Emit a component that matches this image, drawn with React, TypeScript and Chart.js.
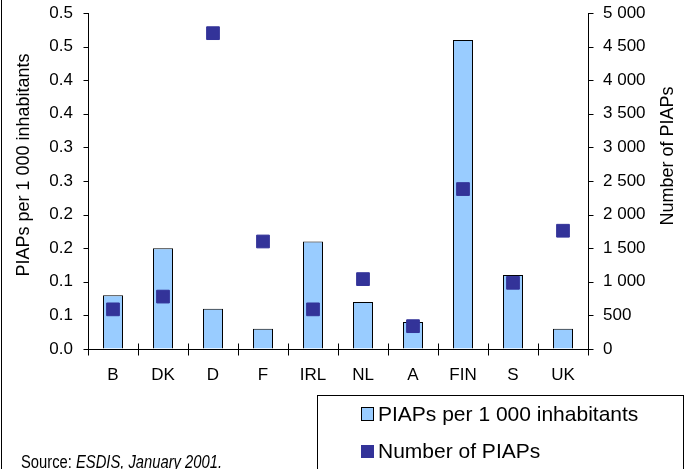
import React, { useEffect, useRef } from 'react';
import { Chart, registerables } from 'chart.js';

Chart.register(...registerables);

const categories = ['B', 'DK', 'D', 'F', 'IRL', 'NL', 'A', 'FIN', 'S', 'UK'];
const piapsPer1000 = [0.08, 0.15, 0.06, 0.03, 0.16, 0.07, 0.04, 0.46, 0.11, 0.03];
const numberOfPiaps = [590, 780, 4700, 1600, 590, 1040, 340, 2380, 985, 1760];
const leftTickLabels = ['0.0', '0.1', '0.1', '0.2', '0.2', '0.3', '0.3', '0.4', '0.4', '0.5', '0.5'];
const rightTickLabels = ['0', '500', '1 000', '1 500', '2 000', '2 500', '3 000', '3 500', '4 000', '4 500', '5 000'];
const seriesLabels = ['PIAPs per 1 000 inhabitants', 'Number of PIAPs'];
const leftAxisTitle = 'PIAPs per 1 000 inhabitants';
const rightAxisTitle = 'Number of PIAPs';
const sourcePrefix = 'Source: ';
const sourceItalic = 'ESDIS, January 2001.';

const FONT = "'Liberation Sans', Arial, sans-serif";
const BAR_FILL = '#99CCFF';
const MARK = '#333399';

const extrasPlugin = {
  id: 'extras',
  afterDraw(chart: any) {
    const ctx = chart.ctx as CanvasRenderingContext2D;
    const area = chart.chartArea;
    ctx.save();
    ctx.strokeStyle = '#000';
    ctx.lineWidth = 1;

    // left frame line
    ctx.beginPath();
    ctx.moveTo(1.5, 0);
    ctx.lineTo(1.5, 469);
    ctx.stroke();

    // crossing category tick marks
    const n = categories.length;
    const step = (area.right - area.left) / n;
    const yAxis = Math.round(area.bottom) + 0.5;
    ctx.beginPath();
    for (let i = 0; i <= n; i++) {
      const x = Math.round(area.left + i * step) + 0.5;
      ctx.moveTo(x, yAxis - 6);
      ctx.lineTo(x, yAxis + 6);
    }
    // outside tick marks on both value axes
    const yl = chart.scales.y;
    const yr = chart.scales.y1;
    yl.ticks.forEach((t: any) => {
      const py = Math.round(yl.getPixelForValue(t.value)) + 0.5;
      const lx = Math.round(area.left) + 0.5;
      ctx.moveTo(lx - 5, py);
      ctx.lineTo(lx, py);
    });
    yr.ticks.forEach((t: any) => {
      const py = Math.round(yr.getPixelForValue(t.value)) + 0.5;
      const rx = Math.round(area.right) + 0.5;
      ctx.moveTo(rx, py);
      ctx.lineTo(rx + 5, py);
    });
    ctx.stroke();

    // axis titles (both read bottom-to-top)
    ctx.fillStyle = '#000';
    ctx.font = `18px ${FONT}`;
    ctx.textAlign = 'center';
    ctx.textBaseline = 'middle';
    ctx.save();
    ctx.translate(24, 165);
    ctx.rotate(-Math.PI / 2);
    ctx.fillText(leftAxisTitle, 0, 0);
    ctx.restore();
    ctx.save();
    ctx.translate(668, 156);
    ctx.rotate(-Math.PI / 2);
    ctx.fillText(rightAxisTitle, 0, 0);
    ctx.restore();

    // legend box
    ctx.strokeRect(317.5, 395.5, 366, 100);
    ctx.textAlign = 'left';
    ctx.textBaseline = 'alphabetic';
    ctx.font = `21px ${FONT}`;
    ctx.fillStyle = BAR_FILL;
    ctx.fillRect(361.5, 407.5, 12, 13);
    ctx.strokeRect(361.5, 407.5, 12, 13);
    ctx.fillStyle = '#000';
    ctx.fillText(seriesLabels[0], 378, 421);
    ctx.fillStyle = MARK;
    ctx.fillRect(361, 445, 13, 13);
    ctx.fillStyle = '#000';
    ctx.fillText(seriesLabels[1], 378, 458);

    // source note (condensed)
    ctx.save();
    ctx.translate(21, 468);
    ctx.scale(0.82, 1);
    ctx.font = `18px ${FONT}`;
    ctx.fillText(sourcePrefix, 0, 0);
    const w = ctx.measureText(sourcePrefix).width;
    ctx.font = `italic 18px ${FONT}`;
    ctx.fillText(sourceItalic, w, 0);
    ctx.restore();

    ctx.restore();
  },
};

export default function App() {
  const canvasRef = useRef<HTMLCanvasElement | null>(null);

  useEffect(() => {
    if (!canvasRef.current) return;
    const tickFont = { family: FONT, size: 17 };
    const valueGrid = {
      display: true,
      drawOnChartArea: false,
      drawTicks: true,
      tickLength: 13,
      tickColor: 'rgba(0,0,0,0)',
      color: 'rgba(0,0,0,0)',
    };
    const chart = new Chart(canvasRef.current, {
      type: 'bar',
      data: {
        labels: categories,
        datasets: [
          {
            type: 'line',
            label: seriesLabels[1],
            data: numberOfPiaps,
            yAxisID: 'y1',
            showLine: false,
            pointStyle: 'rect',
            pointRadius: 9,
            pointHoverRadius: 9,
            pointBackgroundColor: MARK,
            pointBorderColor: MARK,
            pointBorderWidth: 1,
            backgroundColor: MARK,
            borderColor: MARK,
            order: 0,
          } as any,
          {
            type: 'bar',
            label: seriesLabels[0],
            data: piapsPer1000,
            yAxisID: 'y',
            backgroundColor: BAR_FILL,
            borderColor: '#000',
            borderWidth: 1,
            barPercentage: 0.4,
            categoryPercentage: 1,
            order: 1,
          },
        ],
      },
      options: {
        animation: false,
        responsive: false,
        layout: { padding: { top: 13, left: 0, right: 0, bottom: 0 } },
        plugins: {
          legend: { display: false },
          tooltip: { enabled: false },
        },
        scales: {
          x: {
            type: 'category',
            offset: true,
            grid: { display: false, drawTicks: false },
            border: { display: true, color: '#000', width: 1 },
            ticks: { font: tickFont, color: '#000', padding: 16, maxRotation: 0, autoSkip: false },
            afterFit: (s: any) => { s.height = 120; },
          },
          y: {
            position: 'left',
            min: 0,
            max: 0.5,
            grid: valueGrid,
            border: { display: true, color: '#000', width: 1 },
            ticks: {
              stepSize: 0.05,
              font: tickFont,
              color: '#000',
              padding: 2,
              callback: (_v: any, i: number) => leftTickLabels[i],
            },
            afterFit: (s: any) => { s.width = 88; },
          },
          y1: {
            position: 'right',
            min: 0,
            max: 5000,
            grid: valueGrid,
            border: { display: true, color: '#000', width: 1 },
            ticks: {
              stepSize: 500,
              font: tickFont,
              color: '#000',
              padding: 2,
              callback: (_v: any, i: number) => rightTickLabels[i],
            },
            afterFit: (s: any) => { s.width = 103; },
          },
        },
      },
      plugins: [extrasPlugin],
    });
    return () => chart.destroy();
  }, []);

  return (
    <div style={{ position: 'fixed', left: 0, top: 0, width: 691, height: 469, background: '#fff' }}>
      <canvas ref={canvasRef} width={691} height={469} style={{ display: 'block' }} />
    </div>
  );
}
